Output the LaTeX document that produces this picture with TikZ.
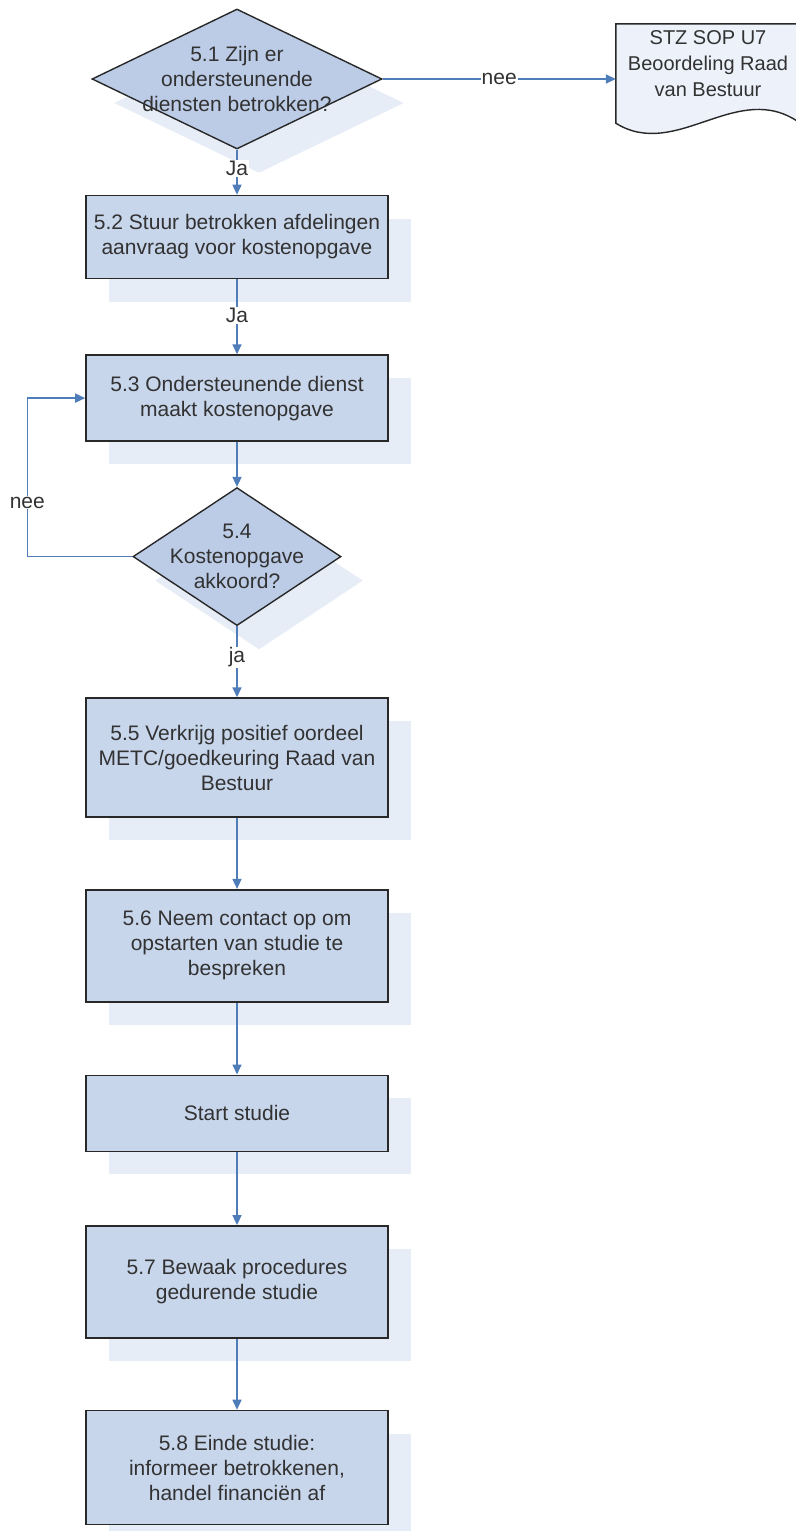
\documentclass[tikz,border=0pt]{standalone}
\usepackage{fontspec}
\setmainfont{Liberation Sans}
\usepackage{tikz}
\usetikzlibrary{arrows.meta,positioning,shapes.geometric,shadows,backgrounds}
\definecolor{stapblue}{RGB}{200,214,236}
\definecolor{keuzeblue}{RGB}{188,204,231}
\definecolor{schaduw}{RGB}{231,237,246}
\definecolor{docblue}{RGB}{236,241,250}
\definecolor{lijn}{RGB}{40,40,40}
\definecolor{pijlblue}{RGB}{79,125,185}
\definecolor{tekst}{RGB}{50,50,50}

\begin{document}
\begin{tikzpicture}[x=1pt, y=-1pt, >={Triangle[length=10pt,width=9pt]},
 every node/.style={font=\fontsize{21}{25}\selectfont, align=center, text=tekst},
 box/.style={draw=lijn, line width=1.6pt, fill=stapblue, minimum width=302pt, inner sep=3pt,
  drop shadow={shadow xshift=23pt, shadow yshift=-23pt, fill=schaduw, opacity=1}},
 decision/.style={diamond, draw=lijn, line width=1.4pt, fill=keuzeblue, inner sep=-12pt,
  drop shadow={shadow xshift=22pt, shadow yshift=-24pt, fill=schaduw, opacity=1}},
 docnode/.style={rectangle, minimum width=184pt, minimum height=80pt, inner sep=0pt, font=\fontsize{20}{26}\selectfont},
 flow/.style={->, draw=pijlblue, line width=1.6pt},
 lbl/.style={fill=white, inner sep=1pt}]
\useasboundingbox (0,0) rectangle (795,1531);
\node[decision, shape aspect=2.07, minimum width=290pt, minimum height=140pt] (q51) at (237,79) {5.1 Zijn er\\ondersteunende\\diensten betrokken?};
\node[docnode] (doc) at (708,64) {STZ SOP U7\\Beoordeling Raad\\van Bestuur};
\node[box, minimum height=83pt, below=45pt of q51] (s52) {5.2 Stuur betrokken afdelingen\\aanvraag voor kostenopgave};
\node[box, minimum height=86pt, below=75pt of s52] (s53) {5.3 Ondersteunende dienst\\maakt kostenopgave};
\node[decision, shape aspect=1.5, minimum width=208pt, minimum height=138pt, below=45pt of s53] (q54) {5.4\\Kostenopgave\\akkoord?};
\node[box, minimum height=119pt, below=71pt of q54] (s55) {5.5 Verkrijg positief oordeel\\METC/goedkeuring Raad van\\Bestuur};
\node[box, minimum height=112pt, below=71pt of s55] (s56) {5.6 Neem contact op om\\opstarten van studie te\\bespreken};
\node[box, minimum height=76pt, below=72pt of s56] (start) {Start studie};
\node[box, minimum height=112pt, below=73pt of start] (s57) {5.7 Bewaak procedures\\gedurende studie};
\node[box, minimum height=114pt, below=71pt of s57] (s58) {5.8 Einde studie:\\informeer betrokkenen,\\handel financiën af};
\begin{scope}[on background layer]
\draw[draw=lijn, line width=1.4pt, fill=docblue] (doc.north west) -- (doc.north east) -- ([yshift=-19pt]doc.south east)
 .. controls +(-62,-45) and +(61,38) .. ([yshift=-19pt]doc.south west) -- cycle;
\end{scope}
\draw[flow] (q51.east) -- node[lbl]{nee} (q51.east -| doc.west);
\draw[flow] (q51.south) -- node[lbl,pos=0.42]{Ja} (s52.north);
\draw[flow] (s52.south) -- node[lbl,pos=0.48]{Ja} (s53.north);
\draw[flow] (s53.south) -- (q54.north);
\draw[flow] (q54.west) -- ++(-105,0) |- node[lbl,pos=0.17]{nee} (s53.west);
\draw[flow] (q54.south) -- node[lbl,pos=0.44]{ja} (s55.north);
\draw[flow] (s55) -- (s56);
\draw[flow] (s56) -- (start);
\draw[flow] (start) -- (s57);
\draw[flow] (s57) -- (s58);
\end{tikzpicture}
\end{document}
